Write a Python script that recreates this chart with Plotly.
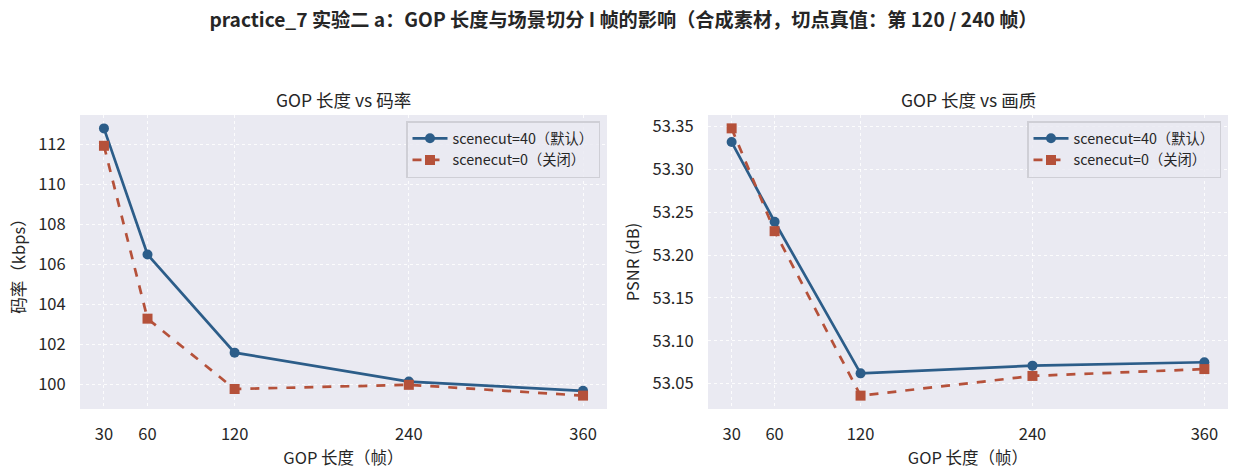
import plotly.graph_objects as go

gop = [30, 60, 120, 240, 360]
tick_labels = ["30", "60", "120", "240", "360"]
bitrate_sc40 = [112.79, 106.48, 101.57, 100.12, 99.66]
bitrate_sc0 = [111.92, 103.27, 99.75, 99.96, 99.42]
psnr_sc40 = [53.332, 53.239, 53.062, 53.071, 53.075]
psnr_sc0 = [53.348, 53.228, 53.036, 53.059, 53.067]
name_sc40 = "scenecut=40（默认）"
name_sc0 = "scenecut=0（关闭）"

BLUE = "#2c5d89"
RED = "#b5513a"
BG = "#eaeaf2"
FONT = "Noto Sans CJK SC"
TXT = "#262626"

fig = go.Figure()

def add_pair(y40, y0, xa, ya, legend):
    fig.add_trace(go.Scatter(x=gop, y=y40, name=name_sc40, mode="lines+markers",
                             line=dict(color=BLUE, width=2.7),
                             marker=dict(symbol="circle", size=10, color=BLUE),
                             xaxis=xa, yaxis=ya, legend=legend))
    fig.add_trace(go.Scatter(x=gop, y=y0, name=name_sc0, mode="lines+markers",
                             line=dict(color=RED, width=2.7, dash="dash"),
                             marker=dict(symbol="square", size=10, color=RED),
                             xaxis=xa, yaxis=ya, legend=legend))

add_pair(bitrate_sc40, bitrate_sc0, "x", "y", "legend")
add_pair(psnr_sc40, psnr_sc0, "x2", "y2", "legend2")

ax_common = dict(showgrid=True, gridcolor="rgba(255,255,255,0.85)", griddash="dot", gridwidth=0.9,
                 zeroline=False, showline=False, ticks="outside", ticklen=10,
                 tickcolor="rgba(0,0,0,0)",
                 tickfont=dict(family=FONT, size=16.5, color=TXT),
                 automargin=False)

ydom = [1 - 409 / 476, 1 - 115 / 476]
xdom1 = [80 / 1247, 607 / 1247]
xdom2 = [708 / 1247, 1228 / 1247]

xtitle = dict(text="GOP 长度（帧）", font=dict(family=FONT, size=16.5, color=TXT), standoff=4)

legend_common = dict(xanchor="right", yanchor="top",
                     bgcolor="rgba(234,234,242,0.85)", bordercolor="#cfcfd6", borderwidth=1.5,
                     font=dict(family=FONT, size=14.3, color=TXT), itemwidth=35, tracegroupgap=0)

fig.update_layout(
    width=1247, height=476,
    margin=dict(l=0, r=0, t=0, b=0),
    paper_bgcolor="white", plot_bgcolor=BG,
    font=dict(family=FONT, size=14, color=TXT),
    xaxis=dict(domain=xdom1, range=[13.5, 376.5], tickvals=gop, ticktext=tick_labels,
               anchor="y", title=xtitle, **ax_common),
    yaxis=dict(domain=ydom, range=[98.75, 113.46], dtick=2, anchor="x",
               title=dict(text="码率（kbps）", font=dict(family=FONT, size=16.5, color=TXT), standoff=8),
               **ax_common),
    xaxis2=dict(domain=xdom2, range=[13.5, 376.5], tickvals=gop, ticktext=tick_labels,
                anchor="y2", title=xtitle, **ax_common),
    yaxis2=dict(domain=ydom, range=[53.0204, 53.3636], dtick=0.05, tickformat=".2f",
                anchor="x2",
                title=dict(text="PSNR (dB)", font=dict(family=FONT, size=16.5, color=TXT), standoff=8),
                **ax_common),
    legend=dict(x=600 / 1247, y=1 - 121 / 476, **legend_common),
    legend2=dict(x=1221 / 1247, y=1 - 121 / 476, **legend_common),
    title=dict(text="<b>practice_7 实验二 a：GOP 长度与场景切分 I 帧的影响（合成素材，切点真值：第 120 / 240 帧）</b>",
               x=0.5, xanchor="center", y=1 - 20 / 476, yanchor="middle",
               font=dict(family=FONT, size=19.2, color=TXT)),
    annotations=[
        dict(text="GOP 长度 vs 码率", x=(xdom1[0] + xdom1[1]) / 2, y=1 - 99 / 476,
             xref="paper", yref="paper", xanchor="center", yanchor="middle", showarrow=False,
             font=dict(family=FONT, size=17.5, color=TXT)),
        dict(text="GOP 长度 vs 画质", x=(xdom2[0] + xdom2[1]) / 2, y=1 - 99 / 476,
             xref="paper", yref="paper", xanchor="center", yanchor="middle", showarrow=False,
             font=dict(family=FONT, size=17.5, color=TXT)),
    ],
)

fig.write_html("out.html", config={"displayModeBar": False},
               post_script="document.body.style.margin='0';document.body.style.padding='0';")
